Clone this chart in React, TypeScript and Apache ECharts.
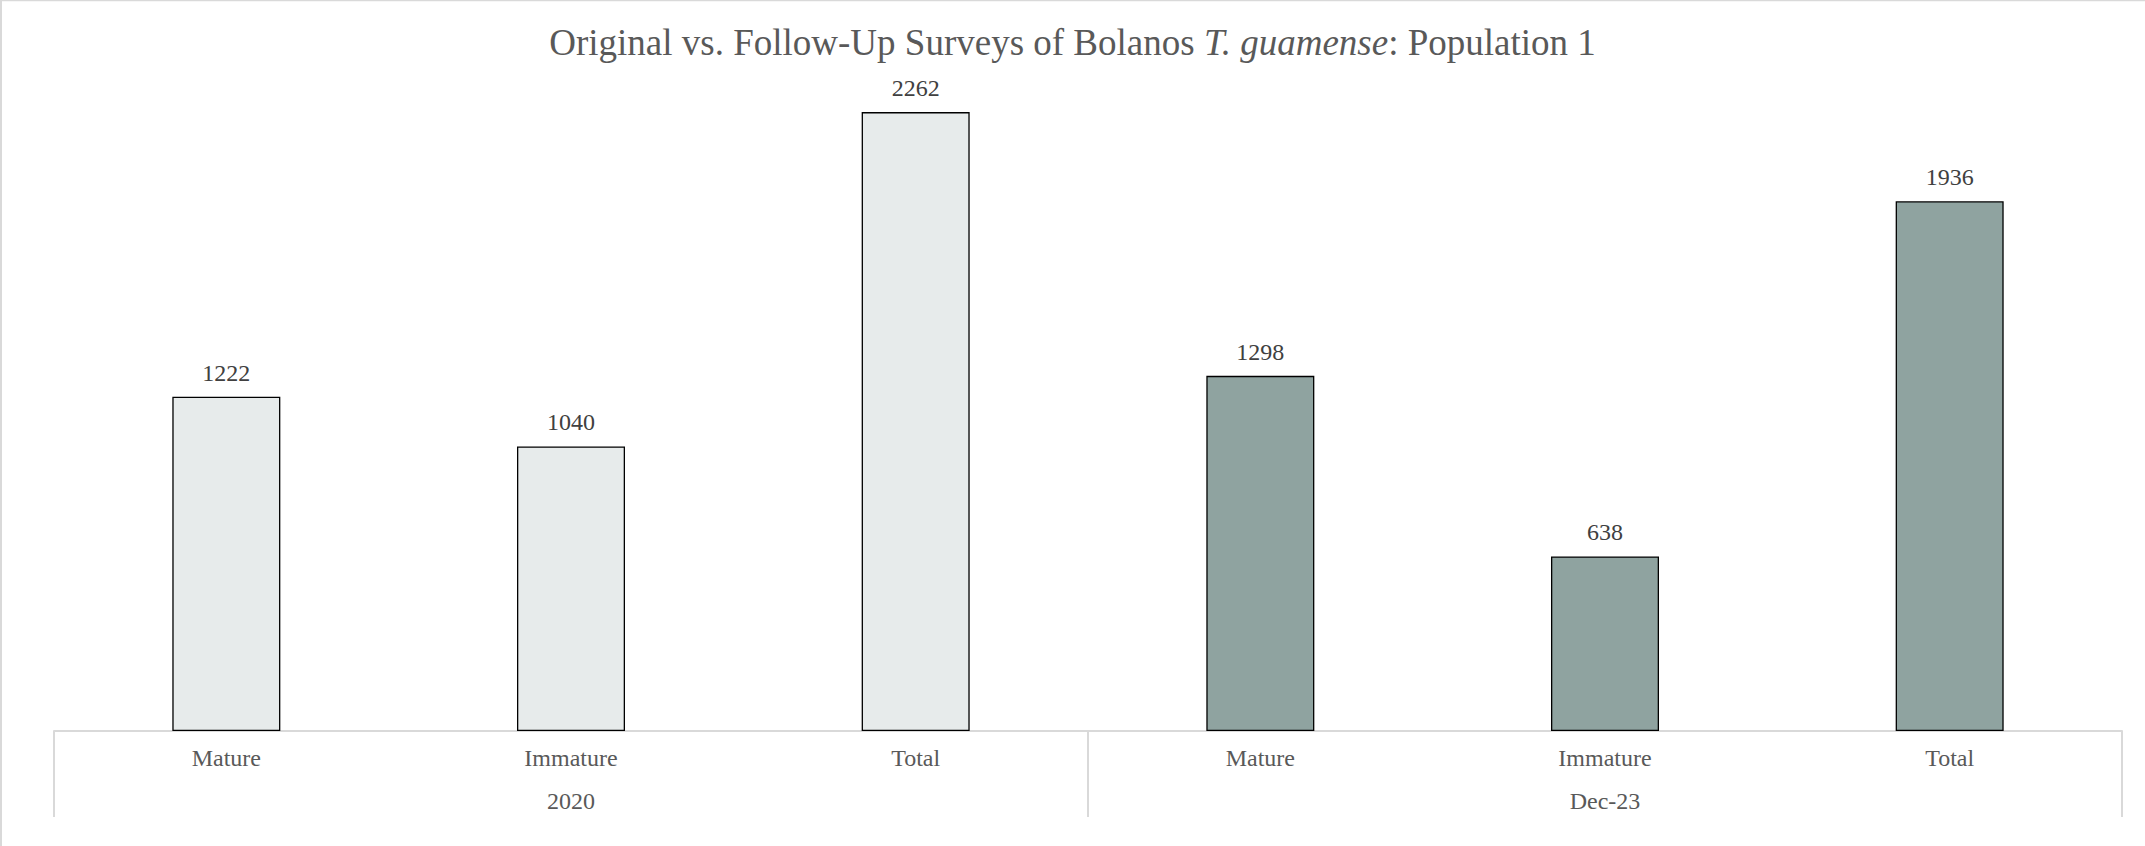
import React, { useEffect, useRef } from "react";
import * as echarts from "echarts";

const categories = ["Mature", "Immature", "Total", "Mature", "Immature", "Total"];
const groups = ["2020", "Dec-23"];
const values2020 = [1222, 1040, 2262];
const valuesDec23 = [1298, 638, 1936];
const groupColors = ["#E7EBEB", "#8FA3A0"];

const FONT = "'Liberation Serif', 'Times New Roman', serif";

export default function App() {
  const ref = useRef<HTMLDivElement>(null);
  useEffect(() => {
    if (!ref.current) return;
    const chart = echarts.init(ref.current, undefined, { renderer: "svg" });
    const data = [
      ...values2020.map((v) => ({ value: v, itemStyle: { color: groupColors[0] } })),
      ...valuesDec23.map((v) => ({ value: v, itemStyle: { color: groupColors[1] } })),
    ];
    chart.setOption({
      animation: false,
      backgroundColor: "#ffffff",
      title: {
        text: "{a|Original vs. Follow-Up Surveys of Bolanos }{b|T. guamense}{a|: Population 1}",
        left: "center",
        top: 19,
        textStyle: {
          fontWeight: "normal",
          rich: {
            a: { fontFamily: FONT, fontSize: 37, color: "#595959", fontWeight: "normal" },
            b: { fontFamily: FONT, fontSize: 37, color: "#595959", fontStyle: "italic", fontWeight: "normal" },
          },
        },
      },
      graphic: [
        { type: "line", shape: { x1: 0, y1: 0.5, x2: 2145, y2: 0.5 }, style: { stroke: "#D9D9D9", lineWidth: 1.5 } },
        { type: "line", shape: { x1: 1, y1: 0, x2: 1, y2: 846 }, style: { stroke: "#D9D9D9", lineWidth: 2 } },
      ],
      grid: { left: 54, right: 23, top: 47, bottom: 115, containLabel: false },
      xAxis: [
        {
          type: "category",
          data: categories,
          position: "bottom",
          axisLine: { show: true, lineStyle: { color: "#D9D9D9", width: 2 } },
          axisTick: { show: false },
          axisLabel: { fontFamily: FONT, fontSize: 24, color: "#595959", margin: 15, interval: 0 },
        },
        {
          type: "category",
          data: groups,
          position: "bottom",
          axisLine: { show: false },
          axisTick: { show: true, length: 86, lineStyle: { color: "#D9D9D9", width: 2 } },
          axisLabel: { fontFamily: FONT, fontSize: 24, color: "#595959", margin: 58, interval: 0 },
        },
      ],
      yAxis: { type: "value", min: 0, max: 2500, show: false, splitLine: { show: false } },
      series: [
        {
          type: "bar",
          xAxisIndex: 0,
          data,
          barWidth: 108,
          itemStyle: { borderColor: "#000000", borderWidth: 1.3 },
          label: {
            show: true,
            position: "top",
            distance: 12,
            fontFamily: FONT,
            fontSize: 24,
            color: "#404040",
          },
        },
      ],
    });
    return () => chart.dispose();
  }, []);
  return (
    <div
      ref={ref}
      style={{ position: "fixed", left: 0, top: 0, width: 2145, height: 846 }}
    />
  );
}
